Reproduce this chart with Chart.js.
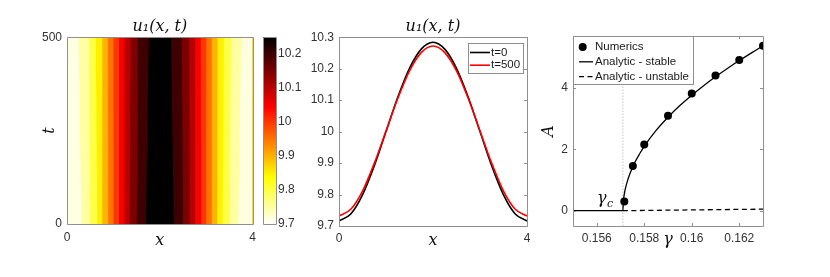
<!DOCTYPE html>
<html>
<head>
<meta charset="utf-8">
<title>u1(x,t) and amplitude A(gamma)</title>
<script src="https://cdn.jsdelivr.net/npm/chart.js"></script>
<style>
  html, body { margin: 0; padding: 0; background: #fff; }
  #page { position: relative; width: 830px; height: 277px; overflow: hidden; }
  .panel { position: absolute; top: 0; height: 277px; }
</style>
</head>
<body>
<div id="page">
  <div class="panel" style="left:0;width:262px"><canvas id="heat"></canvas></div>
  <div class="panel" style="left:256px;width:50px"><canvas id="cbar"></canvas></div>
  <div class="panel" style="left:290px;width:250px"><canvas id="profile"></canvas></div>
  <div class="panel" style="left:535px;width:295px"><canvas id="bif"></canvas></div>
</div>
<script>
// ---- panel 1: contour bands of u1(x,t), edges read at t=0 and t=500 (left to right)
var heatT = [0, 500];
var edgeAtT0   = [0, 0.31, 0.50, 0.65, 0.77, 0.89, 1.00, 1.11, 1.23, 1.35, 1.50, 1.70,
                  2.30, 2.50, 2.65, 2.77, 2.89, 3.00, 3.11, 3.23, 3.35, 3.50, 3.69];
var edgeAtT500 = [0, 0.25, 0.47, 0.62, 0.76, 0.88, 1.00, 1.12, 1.24, 1.37, 1.53, 1.76,
                  2.24, 2.47, 2.63, 2.76, 2.88, 3.00, 3.12, 3.24, 3.38, 3.53, 3.75];
var bandLevel  = [9.716, 9.75, 9.8, 9.85, 9.9, 9.95, 10.0, 10.05, 10.1, 10.15, 10.2, 10.25,
                  10.2, 10.15, 10.1, 10.05, 10.0, 9.95, 9.9, 9.85, 9.8, 9.75, 9.716];
var heatXTicks = [0, 4];
var heatTTicks = [0, 500];
var colorLimits = [9.7, 10.25];
var colorbarTicks = [9.7, 9.8, 9.9, 10, 10.1, 10.2];

// ---- panel 2: profiles u1(x) at t=0 and t=500
var profileX = [0, 0.25, 0.5, 0.75, 1, 1.25, 1.5, 1.75, 2, 2.25, 2.5, 2.75, 3, 3.25, 3.5, 3.75, 4];
var uT0   = [9.716, 9.738, 9.799, 9.891, 10.000, 10.109, 10.201, 10.262, 10.284,
             10.262, 10.201, 10.109, 10.000, 9.891, 9.799, 9.738, 9.716];
var uT500 = [9.732, 9.753, 9.811, 9.899, 10.002, 10.105, 10.193, 10.251, 10.272,
             10.251, 10.193, 10.105, 10.002, 9.899, 9.811, 9.753, 9.732];
var profileXTicks = [0, 4];
var profileYTicks = [9.7, 9.8, 9.9, 10, 10.1, 10.2, 10.3];

// ---- panel 3: amplitude A against gamma
var gammaC = 0.1571;
var gammaNum = [0.15716, 0.15752, 0.158, 0.159, 0.160, 0.161, 0.162, 0.163];
var ampNum   = [0.30, 1.46, 2.16, 3.10, 3.82, 4.41, 4.92, 5.38];
var gammaStable = [0.155, 0.1571, 0.15712, 0.15715, 0.1572, 0.1573, 0.1574, 0.1576, 0.1578, 0.158,
                   0.1585, 0.159, 0.1595, 0.160, 0.1605, 0.161, 0.1615, 0.162, 0.1625, 0.163];
var ampStable   = [0, 0, 0.31, 0.49, 0.70, 0.99, 1.21, 1.57, 1.85, 2.10,
                   2.62, 3.05, 3.43, 3.77, 4.08, 4.37, 4.64, 4.90, 5.14, 5.38];
var gammaUnstable = [0.1571, 0.163];
var ampUnstable   = [0, 0.05];
var bifXTicks = [0.156, 0.158, 0.16, 0.162];
var bifYTicks = [0, 2, 4];

Chart.defaults.font.family = '"Liberation Sans", Arial, sans-serif';
Chart.defaults.font.size = 12;
Chart.defaults.color = '#333';
Chart.defaults.animation = false;
Chart.defaults.events = [];
Chart.defaults.plugins.legend.display = false;
Chart.defaults.plugins.tooltip.enabled = false;

var FRAME = '#8f8f8f';
var mathFont = { family: '"DejaVu Serif", serif', style: 'italic', weight: 'normal', size: 16 };

// reversed matlab "hot": 0 -> white, 1 -> black
function hot(s) {
  var f = 1 - Math.min(1, Math.max(0, s));
  var c = function(v) { return Math.round(255 * Math.min(1, Math.max(0, v))); };
  return 'rgb(' + c(f / 0.375) + ',' + c((f - 0.375) / 0.375) + ',' + c((f - 0.75) / 0.25) + ')';
}
function levelColor(v) { return hot((v - colorLimits[0]) / (colorLimits[1] - colorLimits[0])); }

function fmt(v) { return String(Math.round(v * 1e6) / 1e6); }
function fixTicks(list) { return function(s) { s.ticks = list.map(function(v) { return { value: v }; }); }; }
function fixW(w) { return function(s) { s.width = w; }; }
function fixH(h) { return function(s) { s.height = h; }; }
var noGrid = { display: false, drawTicks: false };
var noBorder = { display: false };

// box round the axes, with short inward ticks
var frame = {
  id: 'frame',
  afterDatasetsDraw: function(chart, args, o) {
    var ctx = chart.ctx, a = chart.chartArea;
    ctx.save();
    ctx.strokeStyle = o.color || FRAME;
    ctx.lineWidth = 1;
    ctx.beginPath();
    if (o.tick) {
      var sx = chart.scales.x, sy = chart.scales.y, L = o.tick;
      sx.ticks.forEach(function(t) {
        var p = Math.round(sx.getPixelForValue(t.value)) + 0.5;
        ctx.moveTo(p, a.bottom); ctx.lineTo(p, a.bottom - L);
        ctx.moveTo(p, a.top); ctx.lineTo(p, a.top + L);
      });
      sy.ticks.forEach(function(t) {
        var p = Math.round(sy.getPixelForValue(t.value)) + 0.5;
        ctx.moveTo(a.left, p); ctx.lineTo(a.left + L, p);
        ctx.moveTo(a.right, p); ctx.lineTo(a.right - L, p);
      });
    }
    ctx.rect(Math.round(a.left) + 0.5, Math.round(a.top) + 0.5,
             Math.round(a.right - a.left), Math.round(a.bottom - a.top));
    ctx.stroke();
    ctx.restore();
  }
};

// matlab-like legend box inside the axes
var boxLegend = {
  id: 'boxLegend',
  afterDraw: function(chart, args, o) {
    if (!o.width) return;
    var ctx = chart.ctx, a = chart.chartArea;
    var x0 = o.right != null ? a.right - o.right - o.width : a.left + o.left;
    var y0 = a.top + o.top;
    ctx.save();
    ctx.fillStyle = '#fff';
    ctx.fillRect(x0, y0, o.width, o.height);
    ctx.strokeStyle = FRAME; ctx.lineWidth = 1;
    ctx.strokeRect(Math.round(x0) + 0.5, Math.round(y0) + 0.5, Math.round(o.width), Math.round(o.height));
    ctx.font = '11.5px "Liberation Sans", Arial, sans-serif';
    ctx.textBaseline = 'middle'; ctx.textAlign = 'left';
    chart.data.datasets.filter(function(d) { return d.inLegend !== false; }).forEach(function(d, i) {
      var y = y0 + o.rowTop + i * o.rowStep;
      if (d.showLine === false) {
        ctx.fillStyle = d.backgroundColor;
        ctx.beginPath(); ctx.arc(x0 + o.markerX, y, d.pointRadius, 0, Math.PI * 2); ctx.fill();
      } else {
        ctx.strokeStyle = d.borderColor; ctx.lineWidth = d.borderWidth;
        ctx.setLineDash(d.borderDash || []);
        ctx.beginPath(); ctx.moveTo(x0 + o.lineFrom, y); ctx.lineTo(x0 + o.lineTo, y); ctx.stroke();
        ctx.setLineDash([]);
      }
      ctx.fillStyle = '#1a1a1a';
      ctx.fillText(d.label, x0 + o.textX, y);
    });
    ctx.restore();
  }
};

// ---------- panel 1: heat map ----------
new Chart(document.getElementById('heat'), {
  type: 'line',
  data: {
    datasets: edgeAtT0.map(function(x0, k) {
      return {
        data: [{ x: x0, y: heatT[0] }, { x: edgeAtT500[k], y: heatT[1] }],
        fill: { value: heatXTicks[1] },
        backgroundColor: levelColor(bandLevel[k]),
        borderColor: 'rgba(0,0,0,0)', borderWidth: 0, pointRadius: 0,
        order: -k
      };
    })
  },
  options: {
    indexAxis: 'y',
    responsive: true, maintainAspectRatio: false,
    layout: { padding: { top: 17, right: 9, bottom: 23, left: 0 } },
    plugins: {
      title: { display: true, text: 'u\u2081(x, t)', fullSize: false, font: mathFont, color: '#111',
               padding: { top: 0, bottom: 1 } },
      frame: { color: FRAME }
    },
    scales: {
      x: { type: 'linear', min: 0, max: 4, grid: noGrid, border: noBorder,
           afterBuildTicks: fixTicks(heatXTicks), afterFit: fixH(30),
           ticks: { padding: 6, callback: fmt, autoSkip: false, maxRotation: 0 },
           title: { display: true, text: 'x', font: mathFont, color: '#111', padding: { top: 0, bottom: 4 } } },
      y: { type: 'linear', min: 0, max: 500, grid: noGrid, border: noBorder,
           afterBuildTicks: fixTicks(heatTTicks), afterFit: fixW(67),
           ticks: { padding: 5, callback: fmt, autoSkip: false },
           title: { display: true, text: 't', font: mathFont, color: '#111', padding: { top: 40, bottom: 0 } } }
    }
  },
  plugins: [frame]
});

// ---------- colour bar ----------
new Chart(document.getElementById('cbar'), {
  type: 'bar',
  data: {
    labels: [''],
    datasets: [{
      data: [colorLimits],
      borderWidth: 0, barPercentage: 1, categoryPercentage: 1,
      backgroundColor: function(c) {
        var a = c.chart.chartArea;
        if (!a) return '#000';
        var g = c.chart.ctx.createLinearGradient(0, a.bottom, 0, a.top);
        for (var i = 0; i <= 32; i++) g.addColorStop(i / 32, hot(i / 32));
        return g;
      }
    }]
  },
  options: {
    responsive: true, maintainAspectRatio: false,
    layout: { padding: { top: 37, right: 0, bottom: 53, left: 7 } },
    plugins: { frame: { color: FRAME } },
    scales: {
      x: { display: false },
      y: { position: 'right', min: colorLimits[0], max: colorLimits[1], grid: noGrid, border: noBorder,
           afterBuildTicks: fixTicks(colorbarTicks), afterFit: fixW(30),
           ticks: { padding: 2, callback: fmt, autoSkip: false } }
    }
  },
  plugins: [frame]
});

// ---------- panel 2: profiles ----------
function pts(xs, ys) { return xs.map(function(x, i) { return { x: x, y: ys[i] }; }); }

new Chart(document.getElementById('profile'), {
  type: 'line',
  data: {
    datasets: [
      { label: 't=0', data: pts(profileX, uT0), borderColor: '#000', borderWidth: 1.6,
        pointRadius: 0, cubicInterpolationMode: 'monotone', fill: false, order: 1 },
      { label: 't=500', data: pts(profileX, uT500), borderColor: '#ff0000', borderWidth: 1.6,
        pointRadius: 0, cubicInterpolationMode: 'monotone', fill: false, order: 0 }
    ]
  },
  options: {
    responsive: true, maintainAspectRatio: false,
    layout: { padding: { top: 17, right: 13, bottom: 21, left: 0 } },
    plugins: {
      title: { display: true, text: 'u\u2081(x, t)', fullSize: false, font: mathFont, color: '#111',
               padding: { top: 0, bottom: 1 } },
      frame: { color: FRAME, tick: 3 },
      boxLegend: { right: 4.7, top: 5.3, width: 54.6, height: 30, rowTop: 10, rowStep: 12.7,
                   lineFrom: 2.3, lineTo: 22.3, markerX: 12, textX: 23.3 }
    },
    scales: {
      x: { type: 'linear', min: 0, max: 4, grid: noGrid, border: noBorder,
           afterBuildTicks: fixTicks(profileXTicks), afterFit: fixH(30),
           ticks: { padding: 5, callback: fmt, autoSkip: false, maxRotation: 0 },
           title: { display: true, text: 'x', font: mathFont, color: '#111', padding: { top: 0, bottom: 6 } } },
      y: { type: 'linear', min: 9.7, max: 10.3, grid: noGrid, border: noBorder,
           afterBuildTicks: fixTicks(profileYTicks), afterFit: fixW(49),
           ticks: { padding: 5, callback: fmt, autoSkip: false } }
    }
  },
  plugins: [frame, boxLegend]
});

// ---------- panel 3: bifurcation ----------
var gammaLabel = {
  id: 'gammaLabel',
  afterDatasetsDraw: function(chart) {
    var ctx = chart.ctx;
    var px = chart.scales.x.getPixelForValue(gammaC), py = chart.scales.y.getPixelForValue(0);
    ctx.save();
    ctx.fillStyle = '#111'; ctx.textAlign = 'left'; ctx.textBaseline = 'alphabetic';
    ctx.font = 'italic 16px "DejaVu Serif", serif';
    ctx.fillText('\u03b3', px - 26, py - 7.5);
    ctx.font = 'italic 11px "DejaVu Serif", serif';
    ctx.fillText('c', px - 16, py - 4);
    ctx.restore();
  }
};

new Chart(document.getElementById('bif'), {
  type: 'scatter',
  data: {
    datasets: [
      { label: 'Numerics', data: pts(gammaNum, ampNum), showLine: false, pointRadius: 4,
        backgroundColor: '#000', borderColor: '#000', borderWidth: 0 },
      { label: 'Analytic - stable', data: pts(gammaStable, ampStable), showLine: true,
        borderColor: '#000', borderWidth: 1.3, pointRadius: 0, cubicInterpolationMode: 'monotone' },
      { label: 'Analytic - unstable', data: pts(gammaUnstable, ampUnstable), showLine: true,
        borderColor: '#000', borderWidth: 1.3, borderDash: [5, 3.5], pointRadius: 0 },
      { label: 'gamma_c', inLegend: false, data: [{ x: gammaC, y: -0.5 }, { x: gammaC, y: 5.7 }],
        showLine: true, borderColor: '#c4c4c4', borderWidth: 1, borderDash: [1.5, 1.5], pointRadius: 0 }
    ]
  },
  options: {
    responsive: true, maintainAspectRatio: false,
    layout: { padding: { top: 36, right: 67, bottom: 21, left: 0 } },
    plugins: {
      frame: { color: FRAME, tick: 3 },
      boxLegend: { left: 0, top: 0, width: 120, height: 48, rowTop: 11, rowStep: 14.8,
                   lineFrom: 6, lineTo: 20, markerX: 9.7, textX: 22 }
    },
    scales: {
      x: { type: 'linear', min: 0.155, max: 0.163, grid: noGrid, border: noBorder,
           afterBuildTicks: fixTicks(bifXTicks), afterFit: fixH(30),
           ticks: { padding: 5, callback: fmt, autoSkip: false, maxRotation: 0 },
           title: { display: true, text: '\u03b3', font: mathFont, color: '#111', padding: { top: 0, bottom: 7 } } },
      y: { type: 'linear', min: -0.5, max: 5.7, grid: noGrid, border: noBorder,
           afterBuildTicks: fixTicks(bifYTicks), afterFit: fixW(38),
           ticks: { padding: 5, callback: fmt, autoSkip: false },
           title: { display: true, text: 'A', font: mathFont, color: '#111', padding: { top: 4, bottom: 0 } } }
    }
  },
  plugins: [frame, gammaLabel, boxLegend]
});
</script>
</body>
</html>
